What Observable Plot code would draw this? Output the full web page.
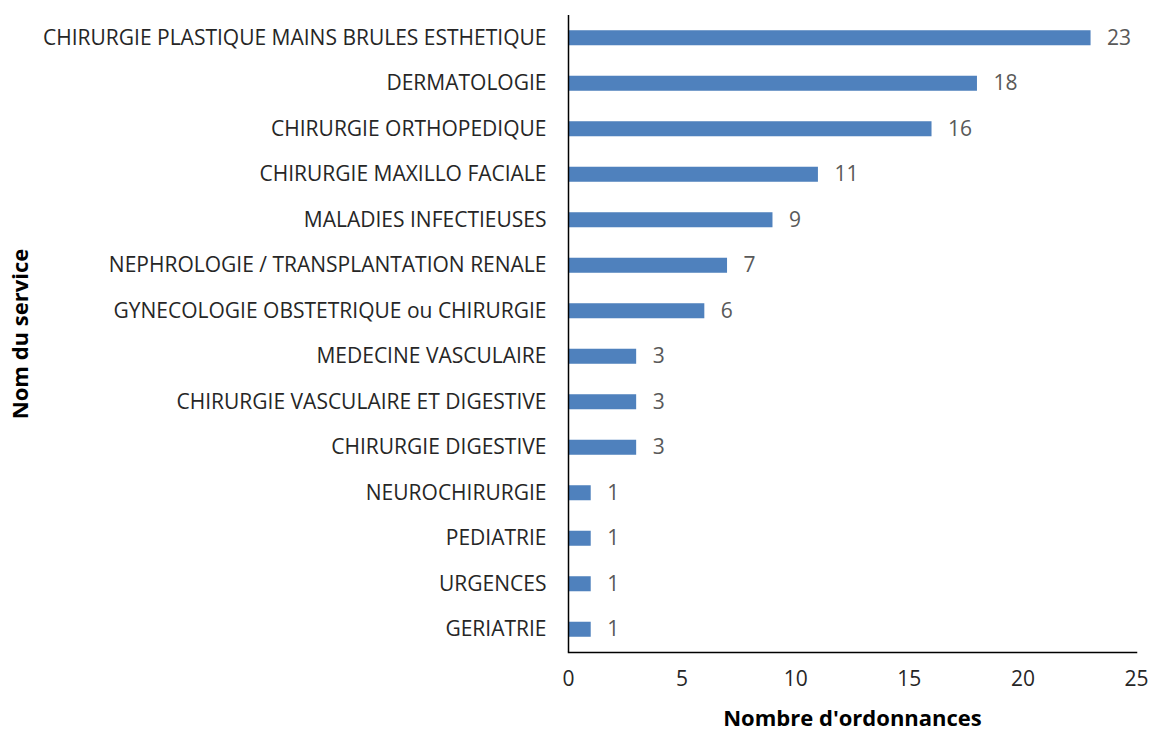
<!DOCTYPE html>
<html>
<head>
<meta charset="utf-8">
<script src="https://cdn.jsdelivr.net/npm/d3@7"></script>
<script src="https://cdn.jsdelivr.net/npm/@observablehq/plot@0.6"></script>
<style>
  html, body { margin: 0; padding: 0; background: #ffffff; }
  svg { overflow: visible; }
</style>
</head>
<body>
<div id="chart"></div>
<script>
const services = [
  "CHIRURGIE PLASTIQUE MAINS BRULES ESTHETIQUE",
  "DERMATOLOGIE",
  "CHIRURGIE ORTHOPEDIQUE",
  "CHIRURGIE MAXILLO FACIALE",
  "MALADIES INFECTIEUSES",
  "NEPHROLOGIE / TRANSPLANTATION RENALE",
  "GYNECOLOGIE OBSTETRIQUE ou CHIRURGIE",
  "MEDECINE VASCULAIRE",
  "CHIRURGIE VASCULAIRE ET DIGESTIVE",
  "CHIRURGIE DIGESTIVE",
  "NEUROCHIRURGIE",
  "PEDIATRIE",
  "URGENCES",
  "GERIATRIE"
];
const counts = [23, 18, 16, 11, 9, 7, 6, 3, 3, 3, 1, 1, 1, 1];
const xTicks = [0, 5, 10, 15, 20, 25];
const xTitle = "Nombre d'ordonnances";
const yTitle = "Nom du service";

const data = services.map((s, i) => ({service: s, count: counts[i]}));

const chart = Plot.plot({
  width: 1152,
  height: 731,
  marginLeft: 568,
  marginRight: 16,
  marginTop: 15,
  marginBottom: 79,
  style: {fontFamily: "'Open Sans', sans-serif", fontSize: "21px", background: "#ffffff", color: "#262626"},
  x: {domain: [0, 25], ticks: xTicks, label: null},
  y: {domain: services, paddingInner: 0.67, paddingOuter: 0.335, round: false, label: null},
  marks: [
    Plot.barX(data, {x: "count", y: "service", fill: "#4f81bd"}),
    Plot.text(data, {x: "count", y: "service", text: d => String(d.count), textAnchor: "start", dx: 16, fill: "#595959", fontSize: 21}),
    Plot.axisY({tickSize: 0, tickPadding: 22, fontSize: 21, fill: "#262626", label: null}),
    Plot.axisX({ticks: xTicks, tickSize: 0, tickPadding: 19, fontSize: 21, fill: "#262626", label: null}),
    Plot.ruleX([0], {stroke: "#000000", strokeWidth: 1.5}),
    Plot.frame({anchor: "bottom", stroke: "#000000", strokeWidth: 1.5}),
    Plot.text([yTitle], {frameAnchor: "left", dx: -548, rotate: -90, textAnchor: "middle", lineAnchor: "middle", text: d => d, fontWeight: "bold", fontSize: 22, fill: "#000000"}),
    Plot.text([xTitle], {frameAnchor: "bottom", dy: 66, textAnchor: "middle", lineAnchor: "middle", text: d => d, fontWeight: "bold", fontSize: 22, fill: "#000000"})
  ]
});
document.getElementById("chart").appendChild(chart);
</script>
</body>
</html>
